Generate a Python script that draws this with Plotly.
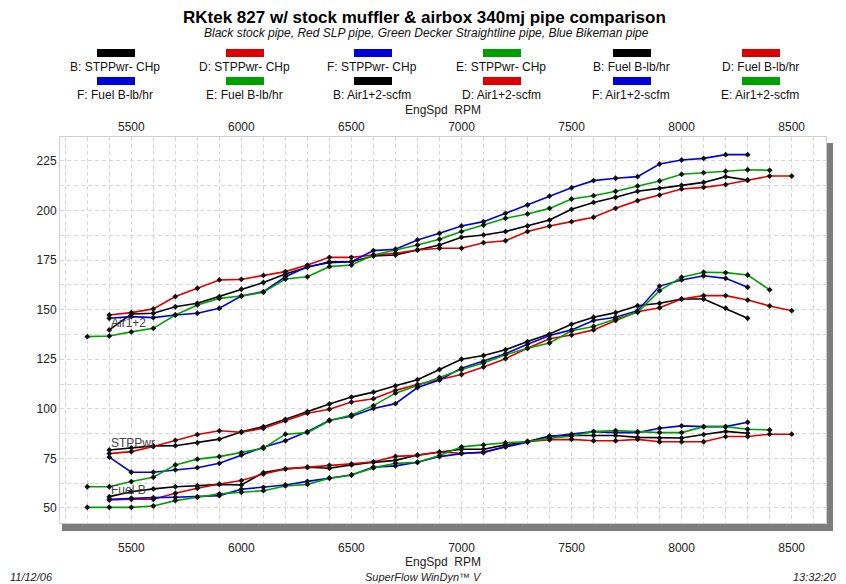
import plotly.graph_objects as go

# ---------------- data ----------------
rpm_black = [5400, 5500, 5600, 5700, 5800, 5900, 6000, 6100, 6200, 6300, 6400, 6500, 6600, 6700, 6800,
             6900, 7000, 7100, 7200, 7300, 7400, 7500, 7600, 7700, 7800, 7900, 8000, 8100, 8200, 8300]
rpm_blue = rpm_black
rpm_red = [5400, 5500, 5600, 5700, 5800, 5900, 6000, 6100, 6200, 6300, 6400, 6500, 6600, 6700, 6800,
           6900, 7000, 7100, 7200, 7300, 7400, 7500, 7600, 7700, 7800, 7900, 8000, 8100, 8200, 8300,
           8400, 8500]
rpm_green = [5300, 5400, 5500, 5600, 5700, 5800, 5900, 6000, 6100, 6200, 6300, 6400, 6500, 6600, 6700,
             6800, 6900, 7000, 7100, 7200, 7300, 7400, 7500, 7600, 7700, 7800, 7900, 8000, 8100, 8200,
             8300, 8400]

# STPPwr - CHp
stp_B = [79.2, 80.3, 81.3, 81.4, 82.9, 84.7, 88.4, 91.0, 94.7, 98.6, 102.4, 105.9, 108.4, 111.6, 114.7,
         119.8, 125.0, 126.9, 129.8, 133.9, 137.7, 142.6, 146.2, 148.5, 152.0, 153.2, 155.4, 155.4, 150.7, 145.7]
stp_D = [77.4, 78.4, 81.0, 84.1, 87.0, 88.9, 88.2, 90.2, 94.0, 97.8, 99.8, 103.4, 105.1, 109.3, 112.3,
         114.7, 117.3, 121.1, 125.3, 130.5, 135.3, 137.2, 139.8, 144.5, 149.0, 151.0, 155.4, 157.1, 157.1,
         154.9, 151.9, 149.5]
stp_F = [75.6, 68.0, 68.0, 69.2, 70.3, 72.5, 76.7, 80.6, 83.9, 88.5, 94.2, 96.2, 100.2, 102.6, 110.7,
         114.5, 120.5, 124.0, 127.8, 132.6, 137.0, 139.8, 144.5, 146.2, 149.5, 161.9, 165.0, 167.1, 165.8, 161.3]
stp_E = [60.7, 60.7, 63.3, 65.5, 71.7, 74.6, 75.9, 77.9, 80.1, 87.2, 88.0, 94.0, 96.9, 101.6, 107.9,
         111.7, 115.8, 119.8, 123.1, 127.3, 130.5, 133.2, 139.4, 141.5, 145.3, 148.7, 159.6, 166.4, 168.9,
         168.7, 167.5, 160.0]

# Fuel B - lb/hr
fuel_B = [55.7, 58.2, 59.6, 60.7, 61.2, 61.9, 61.6, 67.8, 69.7, 70.5, 70.0, 71.7, 73.0, 74.0, 76.7,
          78.0, 79.6, 79.6, 81.8, 83.5, 86.3, 86.5, 86.5, 86.5, 85.6, 85.3, 85.3, 87.0, 88.6, 87.7]
fuel_D = [54.0, 54.4, 54.4, 57.4, 59.9, 62.1, 63.8, 67.1, 69.7, 70.5, 71.5, 72.2, 73.3, 76.0, 76.5,
          78.2, 77.6, 77.9, 80.9, 83.4, 84.4, 84.6, 83.9, 83.9, 84.6, 83.4, 83.4, 83.4, 86.0, 86.0, 87.2, 87.2]
fuel_F = [54.4, 54.9, 55.2, 55.4, 55.7, 56.2, 59.4, 60.4, 61.6, 63.4, 65.1, 66.6, 70.6, 71.2, 73.0,
          75.9, 77.4, 78.2, 80.8, 83.2, 86.0, 87.2, 88.5, 88.0, 88.0, 90.2, 91.4, 91.0, 91.0, 93.2]
fuel_E = [50.3, 50.3, 50.3, 51.0, 53.7, 55.4, 57.1, 57.9, 58.7, 61.1, 61.9, 65.0, 66.6, 70.2, 72.5,
          73.0, 76.4, 80.8, 81.8, 82.9, 83.4, 85.1, 86.3, 88.5, 89.0, 88.5, 88.0, 88.0, 91.0, 91.0, 89.7, 89.3]

# Air1+2 - scfm
air_B = [139.8, 147.8, 148.2, 151.5, 153.2, 156.6, 160.3, 163.7, 168.0, 171.4, 174.2, 174.2, 177.1, 177.6,
         180.1, 182.6, 186.5, 187.7, 189.4, 192.2, 195.2, 200.6, 204.1, 206.7, 209.7, 211.2, 212.7, 214.2,
         217.1, 215.4]
air_D = [147.3, 148.5, 150.4, 156.6, 160.8, 165.0, 165.3, 167.3, 169.2, 172.5, 176.4, 176.4, 177.6, 178.4,
         180.1, 181.0, 181.0, 183.8, 184.8, 189.4, 192.2, 194.4, 196.6, 201.1, 205.0, 207.8, 210.9, 211.7,
         213.1, 215.3, 217.4, 217.4]
air_F = [145.7, 146.5, 146.0, 147.3, 148.2, 150.7, 156.9, 159.1, 166.6, 171.7, 173.7, 174.2, 179.8, 180.5,
         185.2, 188.5, 192.2, 194.4, 198.6, 202.8, 207.3, 211.5, 215.1, 216.3, 217.1, 223.5, 225.5, 226.3,
         228.2, 228.2]
air_E = [136.4, 136.7, 138.8, 140.6, 147.3, 152.4, 155.7, 156.9, 158.8, 165.5, 166.6, 171.7, 172.5, 177.6,
         180.1, 182.6, 185.5, 189.4, 192.7, 196.1, 198.3, 201.1, 205.8, 207.5, 209.7, 212.4, 214.9, 218.3,
         219.1, 219.8, 220.6, 220.3]

x_ticks = [5500, 6000, 6500, 7000, 7500, 8000, 8500]
y_ticks = [50, 75, 100, 125, 150, 175, 200, 225]

legend_names = ["B: STPPwr- CHp", "D: STPPwr- CHp", "F: STPPwr- CHp", "E: STPPwr- CHp",
                "B: Fuel B-lb/hr", "D: Fuel B-lb/hr", "F: Fuel B-lb/hr", "E: Fuel B-lb/hr",
                "B: Air1+2-scfm", "D: Air1+2-scfm", "F: Air1+2-scfm", "E: Air1+2-scfm"]
group_labels = ["Air1+2", "STPPwr", "Fuel B"]
group_label_y = [143.3, 82.8, 59.1]

title = "RKtek 827 w/ stock muffler & airbox 340mj pipe comparison"
subtitle = "Black stock pipe, Red SLP pipe, Green Decker Straightline pipe, Blue Bikeman pipe"

# ---------------- styling ----------------
BLACK, RED, BLUE, GREEN = "#000000", "#dd0000", "#0000d8", "#00a000"
FONT = "Liberation Sans, Arial, sans-serif"
W, H = 846, 584
L, R, T, B = 60, 826, 137, 523


def fx(px):
    return (px - L) / (R - L)


def fy(py):
    return (B - py) / (B - T)


series = [
    (rpm_black, stp_B, BLACK, legend_names[0]),
    (rpm_red, stp_D, RED, legend_names[1]),
    (rpm_blue, stp_F, BLUE, legend_names[2]),
    (rpm_green, stp_E, GREEN, legend_names[3]),
    (rpm_black, fuel_B, BLACK, legend_names[4]),
    (rpm_red, fuel_D, RED, legend_names[5]),
    (rpm_blue, fuel_F, BLUE, legend_names[6]),
    (rpm_green, fuel_E, GREEN, legend_names[7]),
    (rpm_black, air_B, BLACK, legend_names[8]),
    (rpm_red, air_D, RED, legend_names[9]),
    (rpm_blue, air_F, BLUE, legend_names[10]),
    (rpm_green, air_E, GREEN, legend_names[11]),
]

fig = go.Figure()
for xs, ys, col, name in series:
    fig.add_trace(go.Scatter(
        x=xs, y=ys, name=name, mode="lines+markers",
        line=dict(color=col, width=1.6),
        marker=dict(symbol="diamond", size=4.5, color="#111111"),
        showlegend=False,
    ))

# invisible trace to carry the top axis
fig.add_trace(go.Scatter(x=[x_ticks[0]], y=[None], xaxis="x2", mode="markers",
                         marker=dict(opacity=0), showlegend=False, hoverinfo="skip"))

GRID = "#d6d6d6"
DASH = "4px,3px"
xrange_ = [5176, 8656]

fig.update_layout(
    width=W, height=H,
    margin=dict(l=L, r=W - R, t=T, b=H - B, pad=0),
    paper_bgcolor="white", plot_bgcolor="white",
    font=dict(family=FONT, size=12, color="#222222"),
    showlegend=False,
    xaxis=dict(
        range=xrange_, tickvals=x_ticks, showgrid=True, gridcolor=GRID, griddash=DASH,
        minor=dict(dtick=100, tick0=5000, showgrid=True, gridcolor=GRID, griddash=DASH),
        showline=True, mirror=True, linecolor="#cfcfcf", linewidth=1,
        ticks="", ticklabelstandoff=14, zeroline=False, automargin=False,
        title=dict(text="EngSpd  RPM", standoff=3, font=dict(size=12)),
        tickfont=dict(size=12),
    ),
    xaxis2=dict(
        range=xrange_, tickvals=x_ticks, overlaying="x", side="top", anchor="y",
        showgrid=False, ticks="", ticklabelstandoff=3, zeroline=False, automargin=False,
        title=dict(text="EngSpd  RPM", standoff=2, font=dict(size=12)),
        tickfont=dict(size=12),
    ),
    yaxis=dict(
        range=[42.4, 237.1], tickvals=y_ticks, showgrid=True, gridcolor=GRID, griddash=DASH,
        minor=dict(dtick=12.5, tick0=0, showgrid=True, gridcolor=GRID, griddash=DASH),
        showline=True, mirror=True, linecolor="#cfcfcf", linewidth=1,
        ticks="", zeroline=False, automargin=False, tickfont=dict(size=12),
    ),
)

shapes = []
# drop shadow (bottom and right bars)
shapes.append(dict(type="rect", xref="paper", yref="paper", x0=fx(62), x1=fx(833), y0=fy(531), y1=fy(524),
                   fillcolor="#7d7d7d", line=dict(width=0)))
shapes.append(dict(type="rect", xref="paper", yref="paper", x0=fx(827), x1=fx(833), y0=fy(531), y1=fy(143),
                   fillcolor="#7d7d7d", line=dict(width=0)))

annotations = []
# title & subtitle
annotations.append(dict(text="<b>" + title + "</b>", x=fx(424), y=fy(17), xref="paper", yref="paper",
                        showarrow=False, xanchor="center", yanchor="middle",
                        font=dict(size=17, color="#000000", family=FONT)))
annotations.append(dict(text="<i>" + subtitle + "</i>", x=fx(426), y=fy(33), xref="paper", yref="paper",
                        showarrow=False, xanchor="center", yanchor="middle",
                        font=dict(size=12, color="#111111", family=FONT)))

# custom legend: swatch above label, 2 rows x 6 columns
col_centers = [115, 244, 372, 501, 631, 760]
legend_colors = [BLACK, RED, BLUE, GREEN, BLACK, RED, BLUE, GREEN, BLACK, RED, BLUE, GREEN]
for i, (name, col) in enumerate(zip(legend_names, legend_colors)):
    row, c = divmod(i, 6)
    cx = col_centers[c] + 1
    sy = 53 + row * 28
    ty = 67 + row * 28
    shapes.append(dict(type="rect", xref="paper", yref="paper",
                       x0=fx(cx - 19), x1=fx(cx + 19), y0=fy(sy + 4), y1=fy(sy - 4),
                       fillcolor=col, line=dict(width=0)))
    annotations.append(dict(text=name, x=fx(cx - 1), y=fy(ty), xref="paper", yref="paper",
                            showarrow=False, xanchor="center", yanchor="middle",
                            font=dict(size=12, color="#111111", family=FONT)))

# curve-group labels
for lab, yv in zip(group_labels, group_label_y):
    annotations.append(dict(text=lab, x=5400, y=yv, xref="x", yref="y", showarrow=False,
                            xanchor="left", yanchor="middle", font=dict(size=12, color="#444444")))

# footer
annotations.append(dict(text="<i>11/12/06</i>", x=fx(8), y=fy(577), xref="paper", yref="paper",
                        showarrow=False, xanchor="left", yanchor="middle", font=dict(size=11)))
annotations.append(dict(text="<i>SuperFlow WinDyn™ V</i>", x=fx(423), y=fy(577), xref="paper", yref="paper",
                        showarrow=False, xanchor="center", yanchor="middle", font=dict(size=11)))
annotations.append(dict(text="<i>13:32:20</i>", x=fx(839), y=fy(577), xref="paper", yref="paper",
                        showarrow=False, xanchor="right", yanchor="middle", font=dict(size=11)))

fig.update_layout(shapes=shapes, annotations=annotations)
fig.write_html("out.html", config={"displayModeBar": False},
               post_script="document.body.style.margin='0';document.body.style.overflow='hidden';")
